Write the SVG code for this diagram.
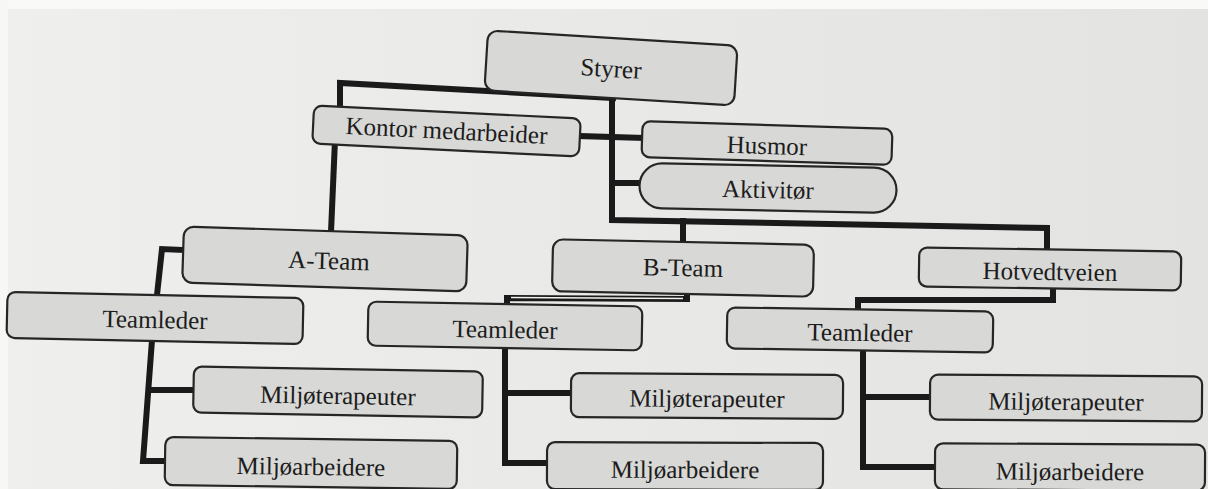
<svg xmlns="http://www.w3.org/2000/svg" width="1208" height="489" viewBox="0 0 1208 489">
<defs>
<linearGradient id="paper" x1="0" y1="0" x2="1" y2="0">
<stop offset="0" stop-color="#efefed"/>
<stop offset="0.5" stop-color="#e9e9e7"/>
<stop offset="1" stop-color="#e3e3e1"/>
</linearGradient>
<style>
.box{fill:#d8d8d6;stroke:#262626;stroke-width:2.2}
.lbl{font-family:"Liberation Serif","Times New Roman",serif;fill:#1c1c1c;text-anchor:middle;font-size:25px}
.con{fill:none;stroke:#1a1a1a;stroke-width:6;stroke-linejoin:miter;stroke-linecap:square}
</style>
</defs>
<rect width="1208" height="489" fill="url(#paper)"/>
<rect x="0" y="0" width="1208" height="9" fill="#f9f9f8"/>
<rect x="0" y="0" width="8" height="489" fill="#f7f7f6"/>

<g id="connectors">
<path class="con" d="M613,98 L340,83 L340,106"/>
<path class="con" d="M612,98 L612,220 L1047,228 L1047,250"/>
<path class="con" d="M683,221 L683,242"/>
<path class="con" d="M580,136 L642,138"/>
<path class="con" d="M612,183 L642,183"/>
<path class="con" d="M335,140 L331,232"/>
<path class="con" d="M185,250 L162,249 L157,295"/>
<path class="con" d="M152,340 L143,461 L167,461"/>
<path class="con" d="M149,390 L197,390"/>
<path class="con" d="M687,292 L687,299 L507,298 L507,305"/>
<path d="M511,297.5 L683,298.5" stroke="#f2f2f0" stroke-width="1.6" fill="none"/>
<path class="con" d="M505,345 L505,463 L549,463"/>
<path class="con" d="M505,393 L572,393"/>
<path class="con" d="M1053,288 L1053,300 L858,300 L858,310"/>
<path class="con" d="M863,350 L863,467 L937,467"/>
<path class="con" d="M863,397 L932,397"/>
</g>

<g id="n-styrer" transform="translate(611,68) rotate(3.5)">
<rect class="box" x="-125" y="-30" width="250" height="60" rx="10"/>
<text class="lbl" y="9" font-size="26">Styrer</text>
</g>

<g id="n-kontor" transform="translate(446.5,131) rotate(2.8)">
<rect class="box" x="-133.5" y="-19" width="267" height="38" rx="8"/>
<text class="lbl" y="8" font-size="24">Kontor medarbeider</text>
</g>

<g id="n-husmor" transform="translate(767,143) rotate(1.8)">
<rect class="box" x="-125" y="-18" width="250" height="36" rx="8"/>
<text class="lbl" y="11" font-size="24">Husmor</text>
</g>

<g id="n-aktivitor" transform="translate(768,188) rotate(1.1)">
<rect class="box" x="-128.5" y="-22.5" width="257" height="45" rx="22.5"/>
<text class="lbl" y="10" font-size="24">Aktivitør</text>
</g>

<g id="n-ateam" transform="translate(325,259) rotate(1.8)">
<rect class="box" x="-142" y="-28" width="284" height="56" rx="10"/>
<text class="lbl" x="4" y="10" font-size="26">A-Team</text>
</g>

<g id="n-bteam" transform="translate(683,268) rotate(1.2)">
<rect class="box" x="-130.5" y="-26" width="261" height="52" rx="10"/>
<text class="lbl" y="8" font-size="25">B-Team</text>
</g>

<g id="n-hotvedtveien" transform="translate(1050,269) rotate(0.9)">
<rect class="box" x="-131" y="-19.5" width="262" height="39" rx="8"/>
<text class="lbl" y="11" font-size="24">Hotvedtveien</text>
</g>

<g id="n-teamleder-a" transform="translate(155,318) rotate(1.2)">
<rect class="box" x="-148" y="-23" width="296" height="46" rx="8"/>
<text class="lbl" y="10" font-size="26">Teamleder</text>
</g>

<g id="n-teamleder-b" transform="translate(505,326) rotate(1)">
<rect class="box" x="-137" y="-22" width="274" height="44" rx="8"/>
<text class="lbl" y="12" font-size="25">Teamleder</text>
</g>

<g id="n-teamleder-c" transform="translate(860,330) rotate(0.9)">
<rect class="box" x="-133" y="-20.5" width="266" height="41" rx="8"/>
<text class="lbl" y="11" font-size="24">Teamleder</text>
</g>

<g id="n-mt-a" transform="translate(338,392) rotate(1)">
<rect class="box" x="-144.5" y="-23" width="289" height="46" rx="8"/>
<text class="lbl" y="12" font-size="26">Miljøterapeuter</text>
</g>

<g id="n-ma-a" transform="translate(311,463) rotate(0.8)">
<rect class="box" x="-146" y="-24" width="292" height="48" rx="8"/>
<text class="lbl" y="12" font-size="26">Miljøarbeidere</text>
</g>

<g id="n-mt-b" transform="translate(707,396) rotate(0.4)">
<rect class="box" x="-136" y="-22" width="272" height="44" rx="8"/>
<text class="lbl" y="11" font-size="25">Miljøterapeuter</text>
</g>

<g id="n-ma-b" transform="translate(685,466) rotate(0.2)">
<rect class="box" x="-138" y="-23.5" width="276" height="47" rx="8"/>
<text class="lbl" y="12" font-size="26">Miljøarbeidere</text>
</g>

<g id="n-mt-c" transform="translate(1066,398) rotate(0.4)">
<rect class="box" x="-136" y="-22.5" width="272" height="45" rx="8"/>
<text class="lbl" y="12" font-size="25">Miljøterapeuter</text>
</g>

<g id="n-ma-c" transform="translate(1070,467) rotate(0.3)">
<rect class="box" x="-135" y="-23" width="270" height="46" rx="8"/>
<text class="lbl" y="13" font-size="26">Miljøarbeidere</text>
</g>
</svg>
